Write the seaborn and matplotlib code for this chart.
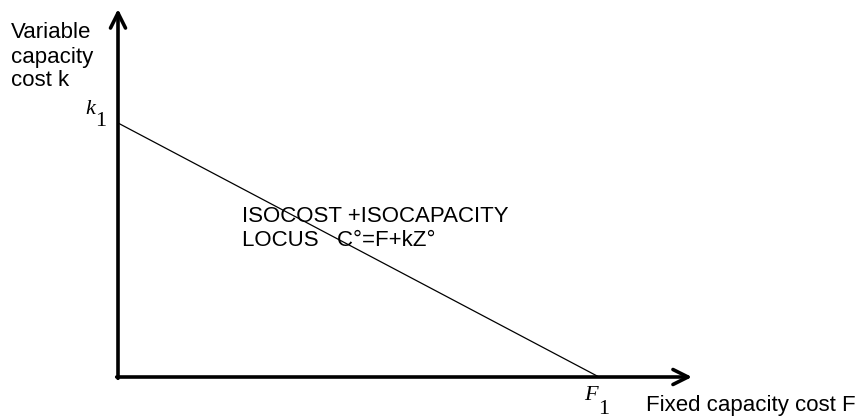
import matplotlib
matplotlib.use("Agg")
import matplotlib.pyplot as plt
import seaborn as sns
import pandas as pd

# data: isocost/isocapacity locus from (0, k1) to (F1, 0)
fixed_cost = [0.0, 1.0]      # F
variable_cost = [1.0, 0.0]   # k
x_label = "Fixed capacity cost F"
y_label_lines = ["Variable", "capacity", "cost k"]
locus_lines = ["ISOCOST +ISOCAPACITY", "LOCUS   C°=F+kZ°"]

sns.set_theme(style="white")
plt.rcParams['font.family'] = ['Liberation Sans', 'DejaVu Sans']
plt.rcParams['text.color'] = 'black'

W, H = 861, 417
fig = plt.figure(figsize=(W / 100, H / 100), dpi=100)
ax = fig.add_axes([0, 0, 1, 1])

# pixel geometry: origin at (118, 377); F1 at x=599; k1 at y=123
x0, y0 = 118, 377
sx = 599 - 118
sy = 377 - 123
ax.set_xlim(-x0 / sx, (W - x0) / sx)
ax.set_ylim(-(H - y0) / sy, y0 / sy)
ax.axis("off")

df = pd.DataFrame({"F": fixed_cost, "k": variable_cost})
sns.lineplot(data=df, x="F", y="k", ax=ax, color="black", linewidth=0.9,
             sort=False, estimator=None)

def px(x):
    return (x - x0) / sx

def py(y):
    return (y0 - y) / sy

# axes arrows
arrow = dict(arrowstyle="->,head_length=0.9,head_width=0.45", color="black",
             lw=2.6, shrinkA=0, shrinkB=0)
ax.annotate("", xy=(px(692), 0), xytext=(px(116.7), 0), arrowprops=arrow)
ax.annotate("", xy=(0, py(9)), xytext=(0, py(378.3)), arrowprops=arrow)

fs = 16
# labels
ax.text(px(646), py(405), x_label, fontsize=fs, ha="left", va="center")
for txt, yy in zip(y_label_lines, [33, 57, 80]):
    ax.text(px(11), py(yy), txt, fontsize=fs, ha="left", va="center")
for txt, yy in zip(locus_lines, [216, 240]):
    ax.text(px(242), py(yy), txt, fontsize=fs, ha="left", va="center")

serif_it = dict(family=["Liberation Serif", "DejaVu Serif"], style="italic", fontsize=16)
serif = dict(family=["Liberation Serif", "DejaVu Serif"], fontsize=16)
ax.text(px(95), py(110), "k", ha="right", va="center", **serif_it)
ax.text(px(95.5), py(121), "1", ha="left", va="center", **serif)
ax.text(px(598), py(396), "F", ha="right", va="center", **serif_it)
ax.text(px(598.5), py(409), "1", ha="left", va="center", **serif)

fig.savefig("out.png", dpi=100)
